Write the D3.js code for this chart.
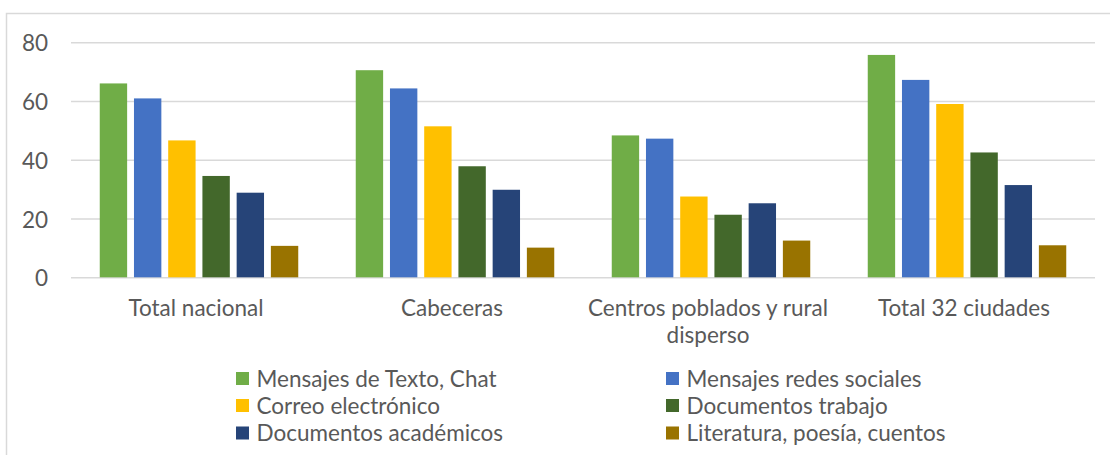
<!DOCTYPE html>
<html>
<head>
<meta charset="utf-8">
<script src="https://cdn.jsdelivr.net/npm/d3@7"></script>
<style>
  html, body { margin: 0; padding: 0; background: #fff; }
  svg { display: block; }
  text { font-family: Lato, "Open Sans", sans-serif; fill: #595959; }
</style>
</head>
<body>
<svg id="chart" width="1110" height="455"></svg>
<script>
const categories = ["Total nacional", "Cabeceras", "Centros poblados y rural disperso", "Total 32 ciudades"];
const seriesNames = ["Mensajes de Texto, Chat", "Mensajes redes sociales", "Correo electrónico", "Documentos trabajo", "Documentos académicos", "Literatura, poesía, cuentos"];
const textoChat   = [66.0, 70.5, 48.3, 75.7];
const redes       = [60.9, 64.3, 47.2, 67.2];
const correo      = [46.6, 51.4, 27.5, 59.0];
const trabajo     = [34.5, 37.8, 21.3, 42.5];
const academicos  = [28.8, 29.8, 25.2, 31.4];
const literatura  = [10.7, 10.1, 12.5, 10.9];
const yTicks = [0, 20, 40, 60, 80];
const colors = ["#70AD47", "#4472C4", "#FFC000", "#43682B", "#264478", "#997300"];

const seriesValues = [textoChat, redes, correo, trabajo, academicos, literatura];

const FS = 22.5;
const svg = d3.select("#chart");

// outer border (top and left visible)
svg.append("path")
  .attr("d", "M6.5,455 L6.5,13.5 L1110,13.5")
  .attr("fill", "none")
  .attr("stroke", "#d9d9d9")
  .attr("stroke-width", 1.5);

const plot = { left: 71, right: 1095, top: 42.3, bottom: 277.3 };

const x0 = d3.scaleBand().domain(categories).range([plot.left, plot.right]).padding(0);
const x1 = d3.scaleBand().domain(seriesNames).range([0, x0.bandwidth()])
  .paddingInner(0.2).paddingOuter(0.84);
const y = d3.scaleLinear().domain([0, 80]).range([plot.bottom, plot.top]);

// y axis with gridlines
const yAxis = svg.append("g")
  .attr("transform", `translate(${plot.left},0)`)
  .call(d3.axisLeft(y).tickValues(yTicks).tickSize(-(plot.right - plot.left)).tickPadding(23).tickFormat(d3.format("d")));
yAxis.select(".domain").remove();
yAxis.selectAll(".tick line").attr("stroke", "#d9d9d9").attr("stroke-width", 1.5);
yAxis.selectAll(".tick text")
  .attr("font-size", FS)
  .attr("dy", null)
  .attr("dominant-baseline", "central")
  .style("font-family", "Lato, sans-serif")
  .attr("fill", "#595959");

// bars
const groups = svg.append("g").selectAll("g")
  .data(categories)
  .join("g")
  .attr("transform", d => `translate(${x0(d)},0)`);

groups.selectAll("rect")
  .data((c, ci) => seriesNames.map((s, si) => ({ s, si, v: seriesValues[si][ci] })))
  .join("rect")
  .attr("x", d => x1(d.s))
  .attr("width", x1.bandwidth())
  .attr("y", d => y(d.v))
  .attr("height", d => y(0) - y(d.v))
  .attr("fill", d => colors[d.si]);

// x axis labels
const xAxis = svg.append("g")
  .attr("transform", `translate(0,${plot.bottom})`)
  .call(d3.axisBottom(x0).tickSize(0).tickPadding(0));
xAxis.select(".domain").remove();
xAxis.selectAll(".tick text")
  .attr("font-size", FS)
  .attr("fill", "#595959")
  .attr("y", 0)
  .attr("dy", null)
  .each(function(d) {
    const t = d3.select(this);
    const words = d.split(" ");
    const maxW = 250;
    t.text(null);
    let line = [];
    let lineNo = 0;
    let tspan = t.append("tspan").attr("x", -3).attr("y", 38.5);
    for (const w of words) {
      line.push(w);
      tspan.text(line.join(" "));
      if (tspan.node().getComputedTextLength() > maxW && line.length > 1) {
        line.pop();
        tspan.text(line.join(" "));
        line = [w];
        lineNo++;
        tspan = t.append("tspan").attr("x", -3).attr("y", 38.5 + lineNo * 27.5).text(w);
      }
    }
  });

// legend
const legendCols = [236, 666];
const legendRows = [378.5, 405.5, 433];
const legend = svg.append("g").selectAll("g")
  .data(seriesNames)
  .join("g")
  .attr("transform", (d, i) => `translate(${legendCols[i % 2]},${legendRows[Math.floor(i / 2)]})`);
legend.append("rect")
  .attr("x", 0).attr("y", -6.5)
  .attr("width", 13).attr("height", 13)
  .attr("fill", (d, i) => colors[i]);
legend.append("text")
  .attr("x", 20.5)
  .attr("y", 8)
  .attr("font-size", FS)
  .text(d => d);
</script>
</body>
</html>
